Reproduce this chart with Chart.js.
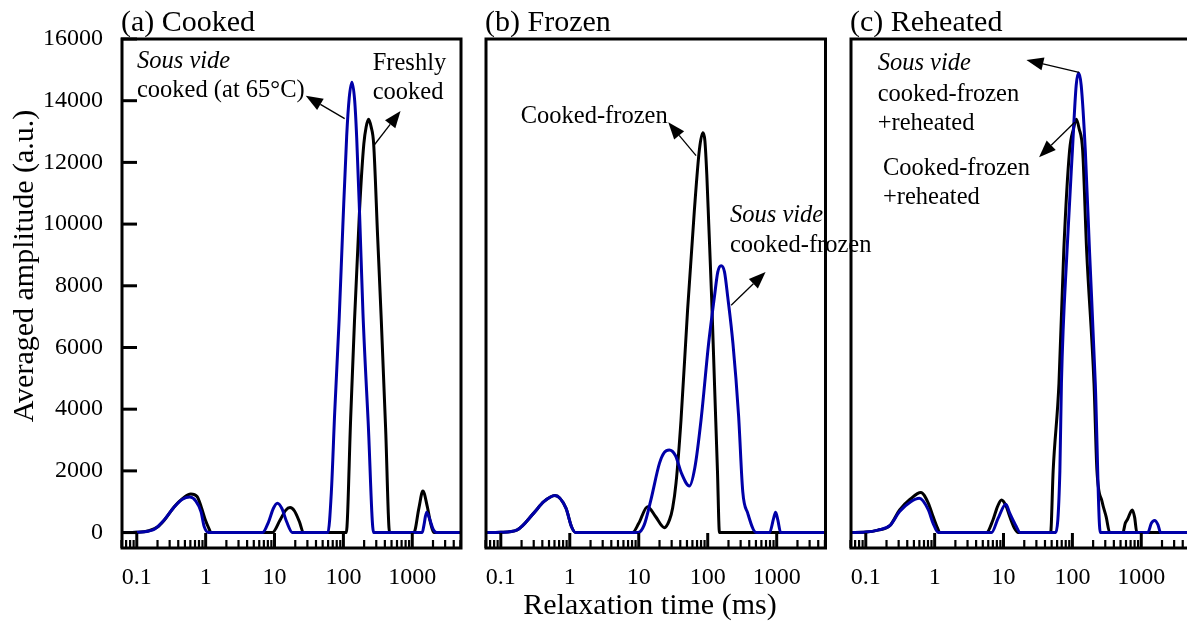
<!DOCTYPE html>
<html>
<head>
<meta charset="utf-8">
<title>Relaxation time distributions</title>
<script src="https://cdn.jsdelivr.net/npm/chart.js@4.4.0/dist/chart.umd.min.js"></script>
<style>
  html, body { margin: 0; padding: 0; background: #fff; overflow: hidden; }
  body { width: 1187px; height: 622px; position: relative; }
  canvas { position: absolute; left: 0; top: 0; }
</style>
</head>
<body>
<canvas id="panel-a" width="1250" height="622"></canvas>
<canvas id="panel-b" width="1250" height="622"></canvas>
<canvas id="panel-c" width="1250" height="622"></canvas>
<script>
// --- DATA (relaxation time in ms, averaged amplitude in a.u.) ---
const timeTicks = [0.1, 1, 10, 100, 1000];
const ampTicks = [0, 2000, 4000, 6000, 8000, 10000, 12000, 14000, 16000];

// (a) Cooked
const cookedFreshT = [0.059, 0.1, 0.15, 0.2, 0.25, 0.35, 0.46, 0.61, 0.75, 0.86, 1.0, 1.13, 1.19,
  9.3, 12, 14.5, 16.8, 19.5, 23, 26.3,
  110, 127.5, 145, 172, 198, 213.9, 232, 252.8, 275, 314, 355, 410, 469,
  1055, 1250, 1425, 1650, 1850, 2056, 5100];
const cookedFreshA = [0, 10, 60, 180, 400, 840, 1100, 1250, 1170, 840, 380, 100, 0,
  0, 400, 720, 810, 700, 350, 0,
  0, 3700, 6880, 10500, 12600, 13150, 13400, 13150, 12600, 9600, 6880, 3400, 0,
  0, 800, 1350, 850, 300, 0, 0];
const cookedSousT = [0.059, 0.1, 0.15, 0.18, 0.25, 0.35, 0.46, 0.59, 0.72, 0.855, 0.95, 1.1,
  6.7, 8.2, 9.6, 11, 12.8, 15, 18.2,
  59.6, 66.8, 74.8, 86.7, 98, 111.6, 121.4, 133, 145.8, 156, 172, 192.4, 228.7, 275,
  1396, 1480, 1611, 1800, 2000, 2250, 5100];
const cookedSousA = [0, 10, 50, 110, 410, 830, 1080, 1150, 1020, 680, 200, 0,
  0, 350, 780, 950, 780, 350, 0,
  0, 1300, 3900, 6900, 9900, 12850, 14080, 14600, 14000, 12800, 10300, 7100, 3600, 0,
  0, 250, 660, 420, 120, 0, 0];

// (b) Frozen
const frozenCookedT = [0.059, 0.1, 0.173, 0.3, 0.42, 0.61, 0.88, 1.06, 1.22,
  8.1, 10, 13.4, 17.5, 23.5, 28, 31, 34.7, 41, 51, 64, 75.6, 85, 91, 97, 103.5, 114, 125.5, 138.4, 148,
  5100];
const frozenCookedA = [0, 10, 90, 630, 1000, 1200, 790, 190, 0,
  0, 300, 840, 520, 160, 420, 800, 1600, 3650, 7200, 10440, 12400, 12960, 12700, 11600, 10000, 7600, 4800, 2000, 0,
  0];
const frozenSousT = [0.059, 0.1, 0.173, 0.3, 0.42, 0.61, 0.88, 1.06, 1.22,
  9.8, 12, 15, 20, 23.5, 27.7, 34, 42, 54.2, 65, 80, 103, 125, 140, 156.6, 175, 195, 232, 280, 322, 380, 505,
  789, 900, 964, 1040, 1140, 5100];
const frozenSousA = [0, 10, 90, 630, 1000, 1200, 790, 190, 0,
  0, 250, 1060, 2250, 2600, 2680, 2500, 1900, 1510, 2100, 3650, 6130, 7640, 8450, 8650, 8450, 7640, 6130, 3800, 1330, 630, 0,
  0, 450, 660, 400, 0, 0];

// (c) Reheated
const reheatCookedT = [0.059, 0.1, 0.15, 0.225, 0.31, 0.44, 0.63, 0.81, 0.95, 1.1, 1.19,
  5.67, 7, 8.2, 9.35, 10.8, 12.3, 14.5, 16.3,
  48.3, 52.6, 63.8, 75, 91, 104, 114, 125, 141, 161, 206, 227, 270, 310, 348,
  541, 585, 632, 741, 800, 863, 5100];
const reheatCookedA = [0, 15, 80, 230, 735, 1080, 1300, 950, 520, 150, 0,
  0, 400, 850, 1060, 880, 520, 130, 0,
  0, 2020, 4830, 9150, 12380, 13100, 13400, 13100, 12380, 9150, 4830, 2020, 1000, 500, 0,
  0, 300, 430, 735, 500, 0, 0];
const reheatSousT = [0.059, 0.1, 0.15, 0.225, 0.31, 0.45, 0.6, 0.81, 0.95, 1.13,
  6.7, 8.3, 10.8, 12.3, 14.9, 17.6,
  57.3, 65.8, 69.3, 83.6, 100, 113.5, 123, 134.2, 154, 177, 215, 254,
  1247, 1400, 1560, 1750, 1905, 5100];
const reheatSousA = [0, 15, 80, 230, 680, 1000, 1110, 735, 300, 0,
  0, 450, 920, 630, 250, 0,
  0, 2000, 4830, 9150, 12380, 14500, 14900, 14500, 12380, 9150, 4830, 0,
  0, 300, 390, 250, 0, 0];

// --- STYLE ---
const BLUE = '#0000a8';
const SERIF = '"Liberation Serif", "Times New Roman", serif';
const T_MIN = 0.059;
const T_MAX = 5100;

function toPoints(times, amps) {
  return times.map((t, i) => ({ x: t, y: amps[i] }));
}

function drawArrow(ctx, x0, y0, x1, y1) {
  const ang = Math.atan2(y1 - y0, x1 - x0);
  const len = 17, half = 6.5;
  const bx = x1 - len * Math.cos(ang);
  const by = y1 - len * Math.sin(ang);
  ctx.lineWidth = 1.3;
  ctx.beginPath();
  ctx.moveTo(x0, y0);
  ctx.lineTo(bx, by);
  ctx.stroke();
  ctx.beginPath();
  ctx.moveTo(x1, y1);
  ctx.lineTo(bx + half * Math.sin(ang), by - half * Math.cos(ang));
  ctx.lineTo(bx - half * Math.sin(ang), by + half * Math.cos(ang));
  ctx.closePath();
  ctx.fill();
}

// Frame, inward ticks, titles and arrow notes for each panel
const panelFrame = {
  id: 'panelFrame',
  afterDraw(chart, args, opts) {
    const ctx = chart.ctx;
    const area = chart.chartArea;
    const xs = chart.scales.x;
    const ys = chart.scales.y;
    ctx.save();
    ctx.strokeStyle = '#000';
    ctx.fillStyle = '#000';

    // box
    ctx.lineWidth = 3;
    ctx.strokeRect(area.left + 1, area.top, area.right - area.left - 1, area.bottom - area.top);

    // log ticks on the bottom edge, pointing up
    for (let d = -2; d <= 3; d++) {
      for (let m = 1; m <= 9; m++) {
        const v = m * Math.pow(10, d);
        if (v < T_MIN || v > T_MAX) continue;
        const x = xs.getPixelForValue(v);
        const len = m === 1 ? 15 : 8;
        ctx.lineWidth = m === 1 ? 3 : 2.2;
        ctx.beginPath();
        ctx.moveTo(x, area.bottom);
        ctx.lineTo(x, area.bottom - len);
        ctx.stroke();
      }
    }

    // amplitude ticks on the left edge
    if (opts.yTicks) {
      ctx.lineWidth = 3;
      ampTicks.forEach(v => {
        const y = ys.getPixelForValue(v);
        ctx.beginPath();
        ctx.moveTo(area.left, y);
        ctx.lineTo(area.left + 16, y);
        ctx.stroke();
      });
    }

    // panel title
    ctx.font = '30px ' + SERIF;
    ctx.textAlign = 'left';
    ctx.textBaseline = 'alphabetic';
    ctx.fillText(opts.title, area.left, 31);

    // notes
    opts.notes.forEach(n => {
      ctx.font = (n.italic ? 'italic ' : '') + '24.5px ' + SERIF;
      ctx.fillText(n.text, n.x, n.y);
    });

    // arrows, anchored in data space
    opts.arrows.forEach(a => {
      drawArrow(ctx,
        xs.getPixelForValue(a.from[0]), ys.getPixelForValue(a.from[1]),
        xs.getPixelForValue(a.to[0]), ys.getPixelForValue(a.to[1]));
    });

    // axis titles
    ctx.font = '30px ' + SERIF;
    if (opts.yTitle) {
      ctx.save();
      ctx.translate(33, 266);
      ctx.rotate(-Math.PI / 2);
      ctx.textAlign = 'center';
      ctx.fillText(opts.yTitle, 0, 0);
      ctx.restore();
    }
    if (opts.xTitle) {
      ctx.textAlign = 'center';
      ctx.fillText(opts.xTitle, 650, 614);
    }
    ctx.restore();
  }
};

function makePanel(cfg) {
  const canvas = document.getElementById(cfg.id);
  const W = canvas.width;
  const line = (color, times, amps) => ({
    data: toPoints(times, amps),
    borderColor: color,
    borderWidth: 3,
    pointRadius: 0,
    fill: false,
    cubicInterpolationMode: 'monotone'
  });
  return new Chart(canvas, {
    type: 'line',
    data: {
      datasets: [
        line(BLUE, cfg.blueT, cfg.blueA),
        line('#000', cfg.blackT, cfg.blackA)
      ]
    },
    options: {
      responsive: false,
      animation: false,
      events: [],
      layout: { padding: { left: cfg.left - 121, right: W - cfg.right, top: 39, bottom: 0 } },
      plugins: {
        legend: { display: false },
        tooltip: { enabled: false },
        panelFrame: cfg.deco
      },
      scales: {
        x: {
          type: 'logarithmic',
          min: T_MIN,
          max: T_MAX,
          grid: { display: false, drawTicks: false },
          border: { display: false },
          afterBuildTicks: s => { s.ticks = timeTicks.map(v => ({ value: v })); },
          afterFit: s => { s.height = 74; },
          ticks: {
            autoSkip: false,
            maxRotation: 0,
            padding: 15,
            color: '#000',
            font: { family: SERIF, size: 24 },
            callback: v => String(v)
          }
        },
        y: {
          min: -500,
          max: 16000,
          grid: { display: false, drawTicks: false },
          border: { display: false },
          afterBuildTicks: s => { s.ticks = ampTicks.map(v => ({ value: v })); },
          afterFit: s => { s.width = 121; },
          ticks: {
            display: cfg.yLabels,
            padding: 18,
            color: '#000',
            font: { family: SERIF, size: 24 },
            callback: v => String(v)
          }
        }
      }
    },
    plugins: [panelFrame]
  });
}

// --- PANELS ---
makePanel({
  id: 'panel-a', left: 121, right: 461, yLabels: true,
  blackT: cookedFreshT, blackA: cookedFreshA,
  blueT: cookedSousT, blueA: cookedSousA,
  deco: {
    title: '(a) Cooked', yTicks: true,
    yTitle: 'Averaged amplitude (a.u.)',
    notes: [
      { text: 'Sous vide', x: 137, y: 67.7, italic: true },
      { text: 'cooked (at 65°C)', x: 137, y: 96.7 },
      { text: 'Freshly', x: 372.7, y: 70 },
      { text: 'cooked', x: 372.7, y: 99.3 }
    ],
    arrows: [
      { from: [104.4, 13420], to: [28.4, 14160] },
      { from: [275, 12540], to: [676, 13670] }
    ]
  }
});

makePanel({
  id: 'panel-b', left: 485, right: 825.5, yLabels: false,
  blackT: frozenCookedT, blackA: frozenCookedA,
  blueT: frozenSousT, blueA: frozenSousA,
  deco: {
    title: '(b) Frozen',
    xTitle: 'Relaxation time (ms)',
    notes: [
      { text: 'Cooked-frozen', x: 520.7, y: 123.3 },
      { text: 'Sous vide', x: 730, y: 221.7, italic: true },
      { text: 'cooked-frozen', x: 730, y: 251.7 }
    ],
    arrows: [
      { from: [67.8, 12220], to: [26.8, 13300] },
      { from: [218.8, 7370], to: [690, 8450] }
    ]
  }
});

makePanel({
  id: 'panel-c', left: 850, right: 1190, yLabels: false,
  blackT: reheatCookedT, blackA: reheatCookedA,
  blueT: reheatSousT, blueA: reheatSousA,
  deco: {
    title: '(c) Reheated',
    notes: [
      { text: 'Sous vide', x: 877.7, y: 70, italic: true },
      { text: 'cooked-frozen', x: 877.7, y: 100.5 },
      { text: '+reheated', x: 877.7, y: 130 },
      { text: 'Cooked-frozen', x: 883, y: 175 },
      { text: '+reheated', x: 883, y: 204 }
    ],
    arrows: [
      { from: [124.6, 14920], to: [21.5, 15320] },
      { from: [108, 13300], to: [32.8, 12170] }
    ]
  }
});
</script>
</body>
</html>
